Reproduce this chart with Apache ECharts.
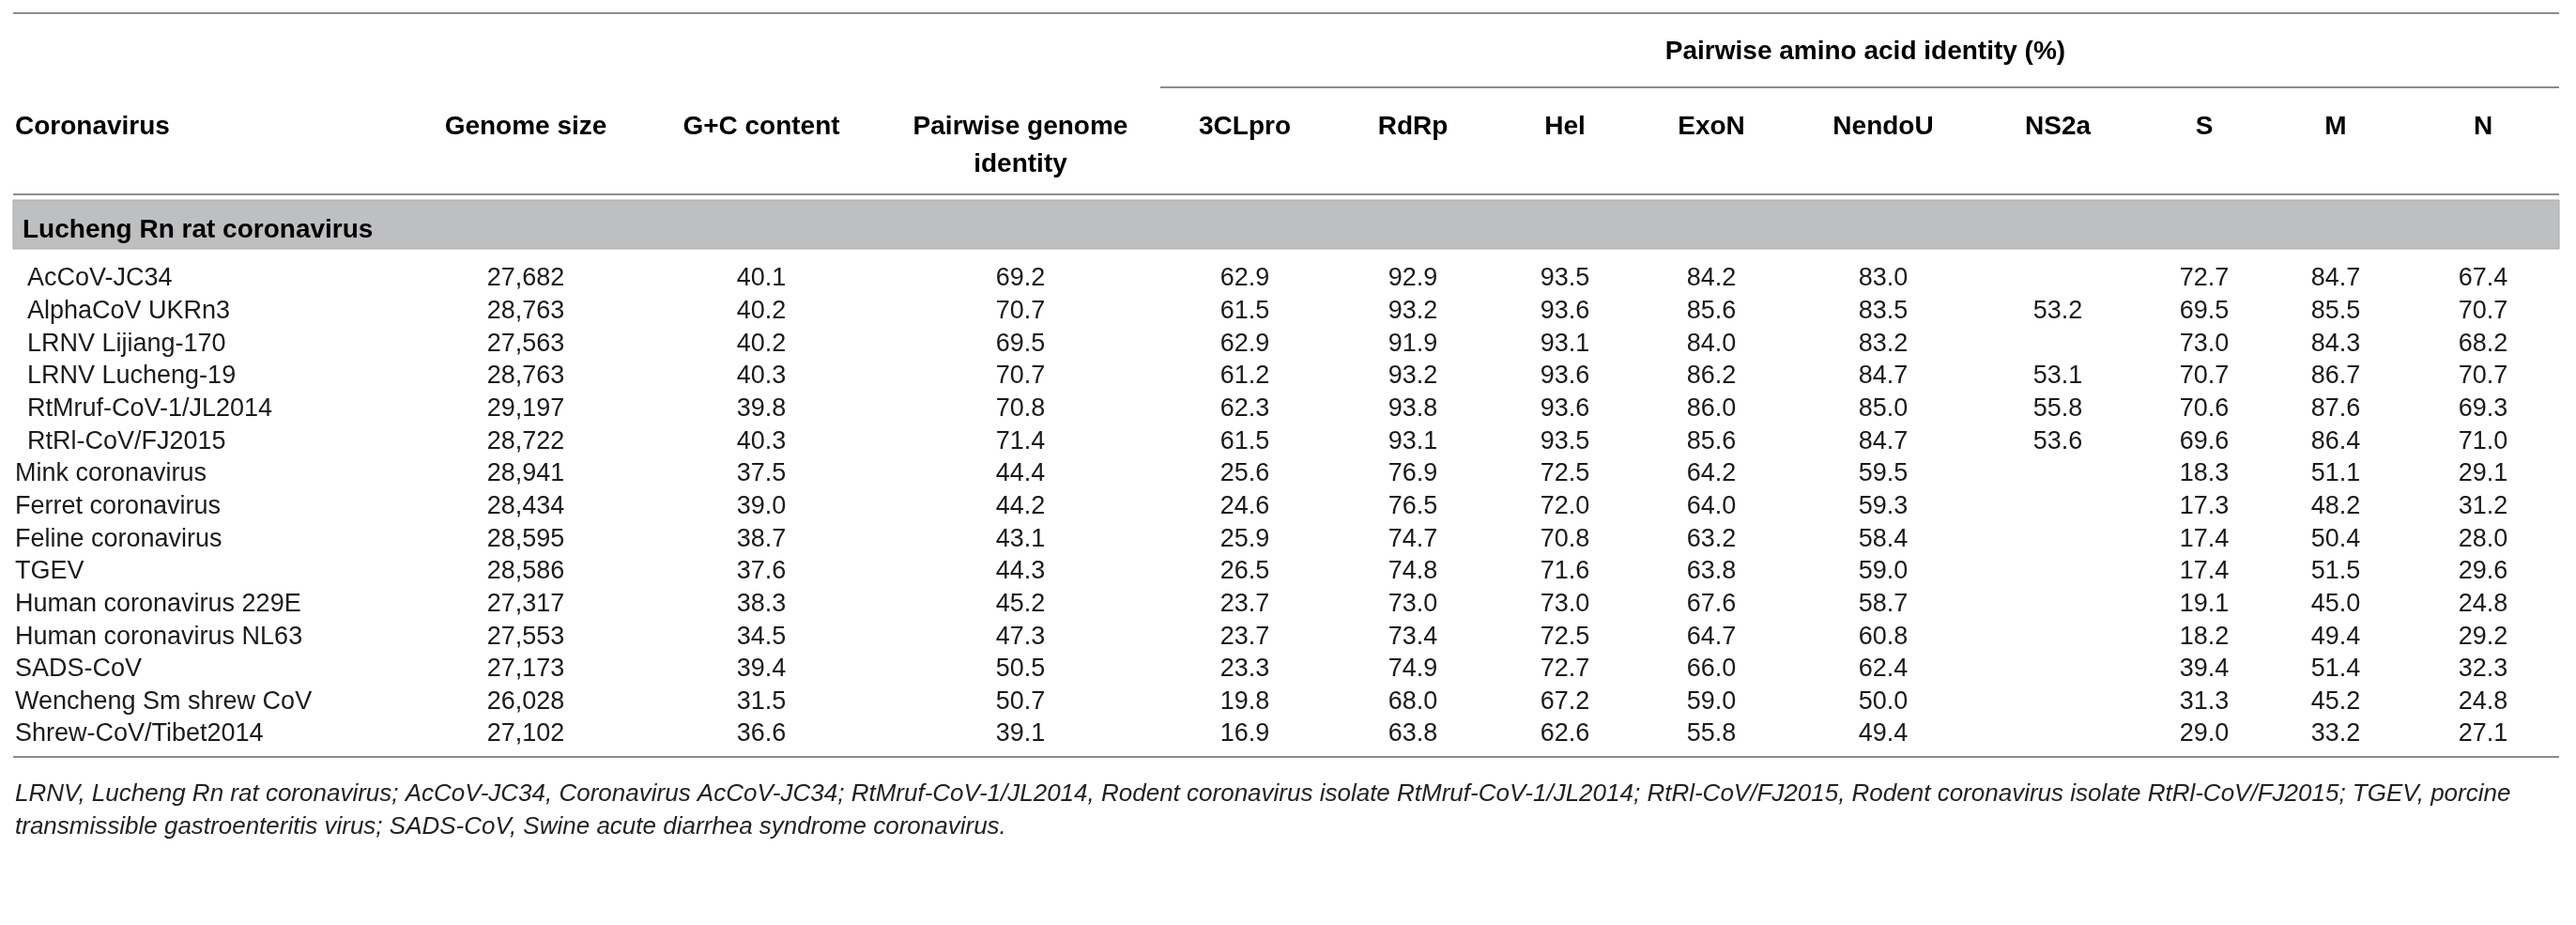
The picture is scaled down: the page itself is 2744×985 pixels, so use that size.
<!DOCTYPE html>
<html>
<head>
<meta charset="utf-8">
<script src="https://cdn.jsdelivr.net/npm/echarts@6/dist/echarts.min.js"></script>
<style>
  html, body { margin: 0; padding: 0; background: #fff; }
  #main { width: 2744px; height: 985px; }
</style>
</head>
<body>
<div id="main"></div>
<script>
// table content
var groupName = 'Lucheng Rn rat coronavirus';
var viruses = ['AcCoV-JC34', 'AlphaCoV UKRn3', 'LRNV Lijiang-170', 'LRNV Lucheng-19', 'RtMruf-CoV-1/JL2014', 'RtRl-CoV/FJ2015',
  'Mink coronavirus', 'Ferret coronavirus', 'Feline coronavirus', 'TGEV', 'Human coronavirus 229E',
  'Human coronavirus NL63', 'SADS-CoV', 'Wencheng Sm shrew CoV', 'Shrew-CoV/Tibet2014'];
var inGroup = [true, true, true, true, true, true, false, false, false, false, false, false, false, false, false];
var colHeaders = ['Coronavirus', 'Genome size', 'G+C content', 'Pairwise genome\nidentity', '3CLpro', 'RdRp', 'Hel', 'ExoN', 'NendoU', 'NS2a', 'S', 'M', 'N'];
var spanHeader = 'Pairwise amino acid identity (%)';

var genomeSize = [27682, 28763, 27563, 28763, 29197, 28722, 28941, 28434, 28595, 28586, 27317, 27553, 27173, 26028, 27102];
var gcContent = [40.1, 40.2, 40.2, 40.3, 39.8, 40.3, 37.5, 39.0, 38.7, 37.6, 38.3, 34.5, 39.4, 31.5, 36.6];
var genomeIdentity = [69.2, 70.7, 69.5, 70.7, 70.8, 71.4, 44.4, 44.2, 43.1, 44.3, 45.2, 47.3, 50.5, 50.7, 39.1];
var cl3pro = [62.9, 61.5, 62.9, 61.2, 62.3, 61.5, 25.6, 24.6, 25.9, 26.5, 23.7, 23.7, 23.3, 19.8, 16.9];
var rdrp = [92.9, 93.2, 91.9, 93.2, 93.8, 93.1, 76.9, 76.5, 74.7, 74.8, 73.0, 73.4, 74.9, 68.0, 63.8];
var hel = [93.5, 93.6, 93.1, 93.6, 93.6, 93.5, 72.5, 72.0, 70.8, 71.6, 73.0, 72.5, 72.7, 67.2, 62.6];
var exoN = [84.2, 85.6, 84.0, 86.2, 86.0, 85.6, 64.2, 64.0, 63.2, 63.8, 67.6, 64.7, 66.0, 59.0, 55.8];
var nendoU = [83.0, 83.5, 83.2, 84.7, 85.0, 84.7, 59.5, 59.3, 58.4, 59.0, 58.7, 60.8, 62.4, 50.0, 49.4];
var ns2a = [null, 53.2, null, 53.1, 55.8, 53.6, null, null, null, null, null, null, null, null, null];
var spike = [72.7, 69.5, 73.0, 70.7, 70.6, 69.6, 18.3, 17.3, 17.4, 17.4, 19.1, 18.2, 39.4, 31.3, 29.0];
var membrane = [84.7, 85.5, 84.3, 86.7, 87.6, 86.4, 51.1, 48.2, 50.4, 51.5, 45.0, 49.4, 51.4, 45.2, 33.2];
var nucleocapsid = [67.4, 70.7, 68.2, 70.7, 69.3, 71.0, 29.1, 31.2, 28.0, 29.6, 24.8, 29.2, 32.3, 24.8, 27.1];

var footnote = ['LRNV, Lucheng Rn rat coronavirus; AcCoV-JC34, Coronavirus AcCoV-JC34; RtMruf-CoV-1/JL2014, Rodent coronavirus isolate RtMruf-CoV-1/JL2014; RtRl-CoV/FJ2015, Rodent coronavirus isolate RtRl-CoV/FJ2015; TGEV, porcine',
  'transmissible gastroenteritis virus; SADS-CoV, Swine acute diarrhea syndrome coronavirus.'];

// layout (x in table units == px since grid spans the page)
var W = 2744, H = 985;
var colX = [16, 560, 811, 1087, 1326, 1505, 1667, 1823, 2006, 2192, 2348, 2488, 2645];
var indent = 13;
var tableLeft = 14, tableRight = 2726;
var FONT = '"Liberation Sans", Arial, Helvetica, sans-serif';
var ruleColor = '#8c8c8c';

var columns = [genomeSize, gcContent, genomeIdentity, cl3pro, rdrp, hel, exoN, nendoU, ns2a, spike, membrane, nucleocapsid];

var cells = [];
viruses.forEach(function (name, r) {
  cells.push([colX[0] + (inGroup[r] ? indent : 0), r, name, 'left']);
  columns.forEach(function (col, c) {
    var v = col[r];
    if (v == null) return;
    var txt = c === 0 ? v.toLocaleString('en-US') : v.toFixed(1);
    cells.push([colX[c + 1], r, txt, 'center']);
  });
});

var myChart = echarts.init(document.getElementById('main'));

var graphics = [];
function hline(y, x1, x2, w) {
  graphics.push({ type: 'line', shape: { x1: x1, y1: y, x2: x2, y2: y }, style: { stroke: ruleColor, lineWidth: w || 2 } });
}
function htext(txt, x, y, align, font) {
  graphics.push({ type: 'text', x: x, y: y, style: { text: txt, align: align, verticalAlign: 'middle', fill: '#000', font: font, lineHeight: 40 } });
}
hline(14, tableLeft, tableRight);
htext(spanHeader, 1987, 55, 'center', 'bold 28px ' + FONT);
hline(93, 1236, tableRight);
colHeaders.forEach(function (h, i) {
  var y = h.indexOf('\n') >= 0 ? 155 : 135;
  htext(h, i === 0 ? colX[0] : colX[i], y, i === 0 ? 'left' : 'center', 'bold 28px ' + FONT);
});
hline(207, tableLeft, tableRight);
graphics.push({ type: 'rect', shape: { x: tableLeft, y: 213, width: tableRight - tableLeft, height: 52 }, style: { fill: '#bebfc1', stroke: '#a9aaac', lineWidth: 1 } });
htext(groupName, 24, 245, 'left', 'bold 28px ' + FONT);
hline(806, tableLeft, tableRight);
footnote.forEach(function (t, i) {
  graphics.push({ type: 'text', x: 16, y: 846 + i * 35, style: { text: t, align: 'left', verticalAlign: 'middle', fill: '#222', font: 'italic 26px ' + FONT } });
});

var option = {
  backgroundColor: '#fff',
  animation: false,
  grid: { left: 0, right: 0, top: 279.7, height: 519.6 },
  xAxis: { type: 'value', min: 0, max: W, show: false },
  yAxis: { type: 'category', inverse: true, data: viruses, show: false },
  graphic: graphics,
  series: [{
    type: 'custom',
    data: cells,
    encode: { x: 0, y: 1 },
    renderItem: function (params, api) {
      var p = api.coord([api.value(0), api.value(1)]);
      var item = cells[params.dataIndex];
      return {
        type: 'text',
        x: p[0],
        y: p[1],
        style: { text: item[2], align: item[3], verticalAlign: 'middle', fill: '#1a1a1a', font: '27px ' + FONT }
      };
    }
  }]
};
myChart.setOption(option);
</script>
</body>
</html>
